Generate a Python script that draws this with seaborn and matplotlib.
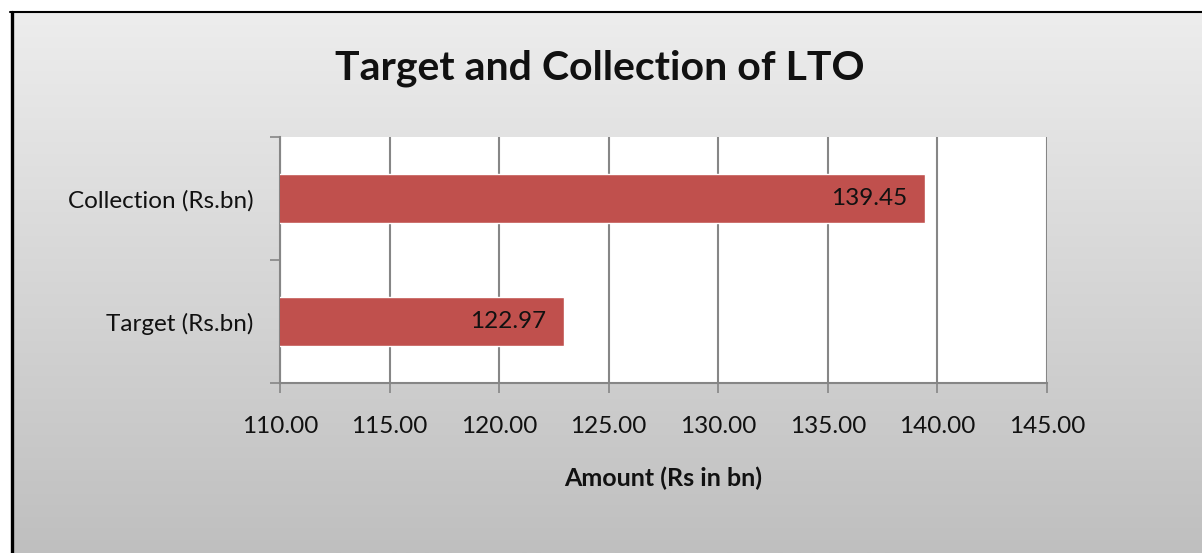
import numpy as np
import pandas as pd
import seaborn as sns
import matplotlib.pyplot as plt
from matplotlib.colors import LinearSegmentedColormap
from matplotlib.lines import Line2D

# data
categories = ["Collection (Rs.bn)", "Target (Rs.bn)"]
amounts = [139.45, 122.97]
x_ticks = [110, 115, 120, 125, 130, 135, 140, 145]

df = pd.DataFrame({"category": categories, "amount": amounts})

sns.set_style("white")
plt.rcParams["font.family"] = ["Lato", "DejaVu Sans"]

W, H = 1202, 553
fig = plt.figure(figsize=(W / 100, H / 100), dpi=100)

# gradient background, white strip outside the frame
bg = fig.add_axes([11 / W, 0, 1 - 11 / W, 1 - 12 / H], zorder=0)
grad = np.linspace(0, 1, 256).reshape(-1, 1)
bg.imshow(grad, aspect="auto", extent=[0, 1, 0, 1], origin="upper",
          cmap=LinearSegmentedColormap.from_list("bg", ["#ededed", "#bfbfbf"]))
bg.axis("off")

# frame: top and left edges only
fig.lines.append(Line2D([11.5 / W, 11.5 / W], [0, 1 - 12 / H], transform=fig.transFigure,
                        color="black", linewidth=2.4, zorder=5))
fig.lines.append(Line2D([10 / W, 1], [1 - 12 / H, 1 - 12 / H], transform=fig.transFigure,
                        color="black", linewidth=1.5, zorder=5))

ax = fig.add_axes([280 / W, 1 - 383 / H, 767 / W, 246 / H], zorder=2)
ax.set_facecolor("white")

sns.barplot(data=df, x="amount", y="category", order=categories,
            color="#c0504d", saturation=1, width=0.4, ax=ax, zorder=3)

ax.set_xlim(110, 145)
ax.set_ylim(1.5, -0.5)
ax.set_xticks(x_ticks)
ax.set_xticklabels([f"{v:.2f}" for v in x_ticks], fontsize=17.5, color="#111111")
ax.tick_params(axis="x", length=7, width=1.2, color="#868686", pad=17, direction="out",
               bottom=True)
ax.tick_params(axis="y", which="major", length=0, pad=19, labelsize=17.5, labelcolor="#111111")
ax.set_yticks([-0.5, 0.5, 1.5], minor=True)
ax.tick_params(axis="y", which="minor", length=7, width=1.2, color="#868686", left=True)

ax.grid(axis="x", color="#868686", linewidth=1.5, zorder=1)
ax.set_axisbelow(True)
for s in ["top", "right"]:
    ax.spines[s].set_visible(False)
for s in ["left", "bottom"]:
    ax.spines[s].set_color("#868686")
    ax.spines[s].set_linewidth(1.5)

ax.set_ylabel("")
ax.set_xlabel("Amount (Rs in bn)", fontsize=18, fontweight="bold", labelpad=21, color="#111111")

for bar, v in zip(ax.patches, amounts):
    ax.annotate(f"{v:.2f}", (bar.get_width(), bar.get_y() + bar.get_height() / 2),
                xytext=(-13, 0), textcoords="offset points", ha="right", va="center",
                fontsize=17.5, color="#111111", zorder=4)

fig.text(600 / W, 1 - 68 / H, "Target and Collection of LTO", ha="center", va="center",
         fontsize=29.5, fontweight="bold", color="#111111")

fig.savefig("out.png", dpi=100)
